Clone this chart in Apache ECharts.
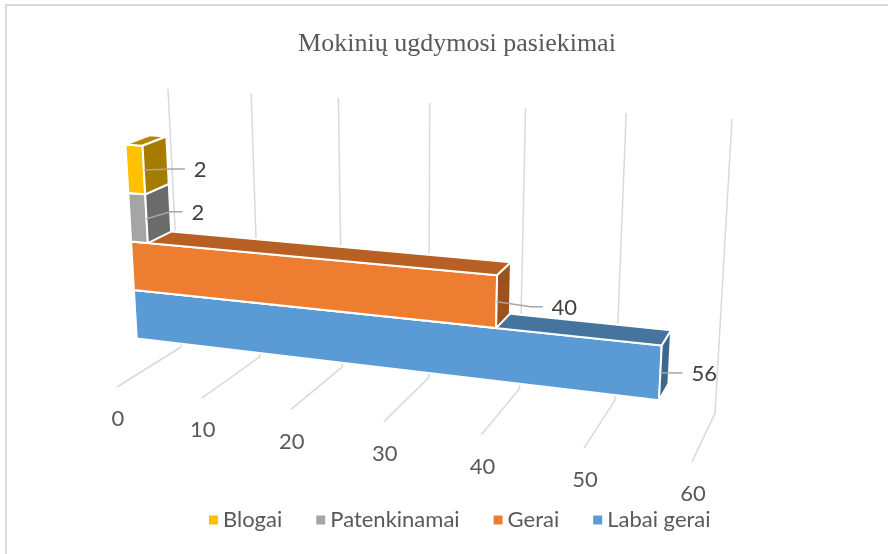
<!DOCTYPE html>
<html>
<head>
<meta charset="utf-8">
<title>Mokinių ugdymosi pasiekimai</title>
<script src="https://cdn.jsdelivr.net/npm/echarts@6.0.0/dist/echarts.min.js"></script>
<style>
  html, body { margin: 0; padding: 0; background: #fff; }
  #chart { width: 888px; height: 554px; }
</style>
</head>
<body>
<div id="chart"></div>
<script>
  const chartTitle = 'Mokinių ugdymosi pasiekimai'
  const seriesNames = ['Blogai', 'Patenkinamai', 'Gerai', 'Labai gerai']
  const seriesValues = [2, 2, 40, 56]
  const tickValues = [0, 10, 20, 30, 40, 50, 60]

  // front / top / side shades of every bar
  const frontColors = ['#ffc000', '#a5a5a5', '#ed7d31', '#5b9bd5']
  const topColors = ['#b48700', '#7c7c7c', '#b85f24', '#45749f']
  const sideColors = ['#a67c00', '#6b6b6b', '#9d511d', '#3c6890']

  // screen corners of the 3d box at value min and value max
  const floorFront = [[117, 387], [692, 462]]
  const floorBack = [[181, 347], [715, 413]]
  const topFront = [[100, 112], [710, 148]]
  const topBack = [[168, 89], [732, 119]]
  const perspective = 1.155

  // bar band (0 = floor, 1 = top) and depth (0 = front, 1 = back wall)
  const bandStart = 0.13
  const bandHeight = 0.18
  const depthFront = 0.34
  const depthBack = 0.70
  // leader line elbow offset for every data label
  const leaderOffsets = [[29, -1], [24, -7], [34, 5], [10, 0]]

  const mix = (a, b, k) => [a[0] + (b[0] - a[0]) * k, a[1] + (b[1] - a[1]) * k]

  function project(t, h, d) {
    const tp = t / (t + perspective * (1 - t))
    const ff = mix(floorFront[0], floorFront[1], tp)
    const fb = mix(floorBack[0], floorBack[1], tp)
    const tf = mix(topFront[0], topFront[1], tp)
    const tb = mix(topBack[0], topBack[1], tp)
    return mix(mix(ff, fb, d), mix(tf, tb, d), h)
  }

  // value/height through the hidden cartesian axes -> normalised -> projected
  function toBox(params, api, value, h) {
    const cs = params.coordSys
    const c = api.coord([value, h])
    return [(c[0] - cs.x) / cs.width, (cs.y + cs.height - c[1]) / cs.height]
  }

  function renderGrid(params, api) {
    const n = toBox(params, api, api.value(0), 0)
    const top = project(n[0], 1, 1)
    const back = project(n[0], 0, 1)
    const front = project(n[0], 0, 0)
    return {
      type: 'group',
      children: [
        {
          type: 'polyline',
          shape: { points: [top, back, front] },
          style: { stroke: '#d9d9d9', lineWidth: 1.5, fill: null }
        },
        {
          type: 'text',
          x: front[0] + 1,
          y: front[1] + 32,
          style: {
            text: String(api.value(0)),
            font: '22px Lato',
            fill: '#595959',
            align: 'center',
            verticalAlign: 'middle'
          }
        }
      ]
    }
  }

  function makeBarRender(i) {
    const level = seriesNames.length - 1 - i
    return function (params, api) {
      const value = api.value(0)
      const h0 = bandStart + level * bandHeight
      const h1 = h0 + bandHeight
      const a = toBox(params, api, 0, h0)
      const b = toBox(params, api, value, h1)
      const t0 = a[0], t1 = b[0]
      const p = (t, h, d) => project(t, h, d)
      const face = (points, fill) => ({
        type: 'polygon',
        shape: { points: points },
        style: { fill: fill, stroke: '#fff', lineWidth: 2, lineJoin: 'round' }
      })
      const start = p(t1, (h0 + h1) / 2, depthFront)
      const elbow = [start[0] + leaderOffsets[i][0], start[1] + leaderOffsets[i][1]]
      const end = [elbow[0] + 12, elbow[1]]
      return {
        type: 'group',
        children: [
          face([p(t0, a[1], depthFront), p(t1, a[1], depthFront), p(t1, b[1], depthFront), p(t0, b[1], depthFront)], frontColors[i]),
          face([p(t0, b[1], depthFront), p(t1, b[1], depthFront), p(t1, b[1], depthBack), p(t0, b[1], depthBack)], topColors[i]),
          face([p(t1, a[1], depthFront), p(t1, a[1], depthBack), p(t1, b[1], depthBack), p(t1, b[1], depthFront)], sideColors[i]),
          {
            type: 'polyline',
            shape: { points: [start, elbow, end] },
            style: { stroke: '#a6a6a6', lineWidth: 1.5, fill: null }
          },
          {
            type: 'text',
            x: end[0] + 9,
            y: end[1] + 1,
            style: {
              text: String(value),
              font: '22px Lato',
              fill: '#404040',
              align: 'left',
              verticalAlign: 'middle'
            }
          }
        ]
      }
    }
  }

  const series = [{
    name: 'grid',
    type: 'custom',
    renderItem: renderGrid,
    data: tickValues.map(v => [v]),
    clip: false,
    silent: true,
    z: 1
  }]
  seriesNames.forEach((name, i) => {
    series.push({
      name: name,
      type: 'custom',
      renderItem: makeBarRender(i),
      data: [[seriesValues[i]]],
      itemStyle: { color: frontColors[i] },
      clip: false,
      z: 2 + (seriesNames.length - 1 - i)
    })
  })

  const myChart = echarts.init(document.getElementById('chart'))
  myChart.setOption({
    animation: false,
    backgroundColor: '#fff',
    title: {
      text: chartTitle,
      left: 452,
      top: 26,
      textAlign: 'center',
      textStyle: {
        fontFamily: 'Liberation Serif',
        fontSize: 26,
        fontWeight: 'normal',
        color: '#595959'
      }
    },
    legend: {
      data: seriesNames,
      bottom: 18,
      left: 204,
      icon: 'rect',
      itemWidth: 9,
      itemHeight: 9,
      itemGap: 34,
      textStyle: { fontFamily: 'Lato', fontSize: 22, color: '#595959' }
    },
    grid: { left: 0, right: 0, top: 0, bottom: 0 },
    xAxis: { type: 'value', min: 0, max: 60, show: false },
    yAxis: { type: 'value', min: 0, max: 1, show: false },
    graphic: [{
      type: 'rect',
      shape: { x: 6, y: 5, width: 1000, height: 700 },
      style: { fill: null, stroke: '#d9d9d9', lineWidth: 2 },
      silent: true
    }],
    series: series
  })
</script>
</body>
</html>
